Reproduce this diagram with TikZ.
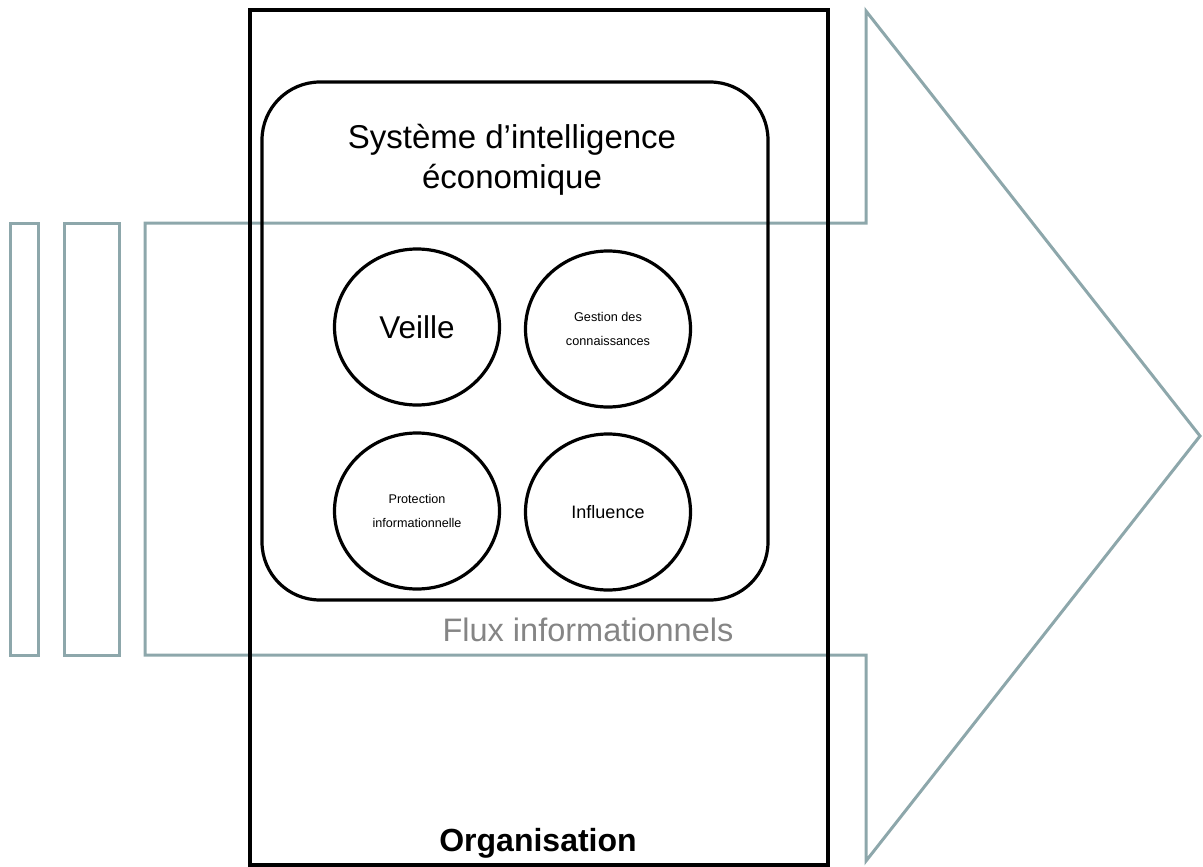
\documentclass[tikz,border=0pt]{standalone}
\usepackage{fontspec}
\setmainfont{Liberation Sans}
\usepackage{xcolor}
\usetikzlibrary{positioning, shapes.geometric}
\definecolor{fluxline}{HTML}{8DA7AB}
\definecolor{fluxtext}{HTML}{858585}

\begin{document}
\begin{tikzpicture}[x=1pt, y=-1pt,
    flux/.style={draw=fluxline, line width=3pt, line join=miter},
    cadre/.style={draw, line width=3.2pt, inner sep=0pt},
    cercle/.style={draw, ellipse, line width=3.2pt, minimum width=165pt, minimum height=156pt, align=center, inner sep=0pt},
]
    \useasboundingbox (0,0) rectangle (1203,867);

    % flux informationnels (grande fleche + bandes)
    \draw[flux] (10,223) rectangle (38,655);
    \draw[flux] (64,223) rectangle (119,655);
    \draw[flux] (145,223) -- (866,223) -- (866,11) -- (1200,436) -- (866,861) -- (866,655) -- (145,655) -- cycle;

    % organisation et systeme
    \node[cadre, minimum width=578pt, minimum height=855pt] (org) at (539,437.5) {};
    \node[cadre, rounded corners=58pt, minimum width=506pt, minimum height=518pt] (sie) at (515,341) {};

    \node[font=\fontsize{33}{40}\selectfont, align=center] (titre) at (512,160) {Système d’intelligence\\économique};

    \node[cercle, font=\fontsize{31.5}{34}\selectfont] (veille) at (417,327) {Veille};
    \node[cercle, font=\fontsize{12.7}{23.5}\selectfont] (gestion) at (608,329) {Gestion des\\connaissances};
    \node[cercle, font=\fontsize{12.6}{23.5}\selectfont] (protect) at (417,511) {Protection\\informationnelle};
    \node[cercle, font=\fontsize{18}{22}\selectfont] (influ) at (608,512) {Influence};

    \node[font=\fontsize{32.5}{36}\selectfont, text=fluxtext] (fluxlbl) at (588,630) {Flux informationnels};
    \node[font=\fontsize{32}{34}\selectfont\bfseries] (orglbl) at (538,843) {Organisation};
\end{tikzpicture}
\end{document}
